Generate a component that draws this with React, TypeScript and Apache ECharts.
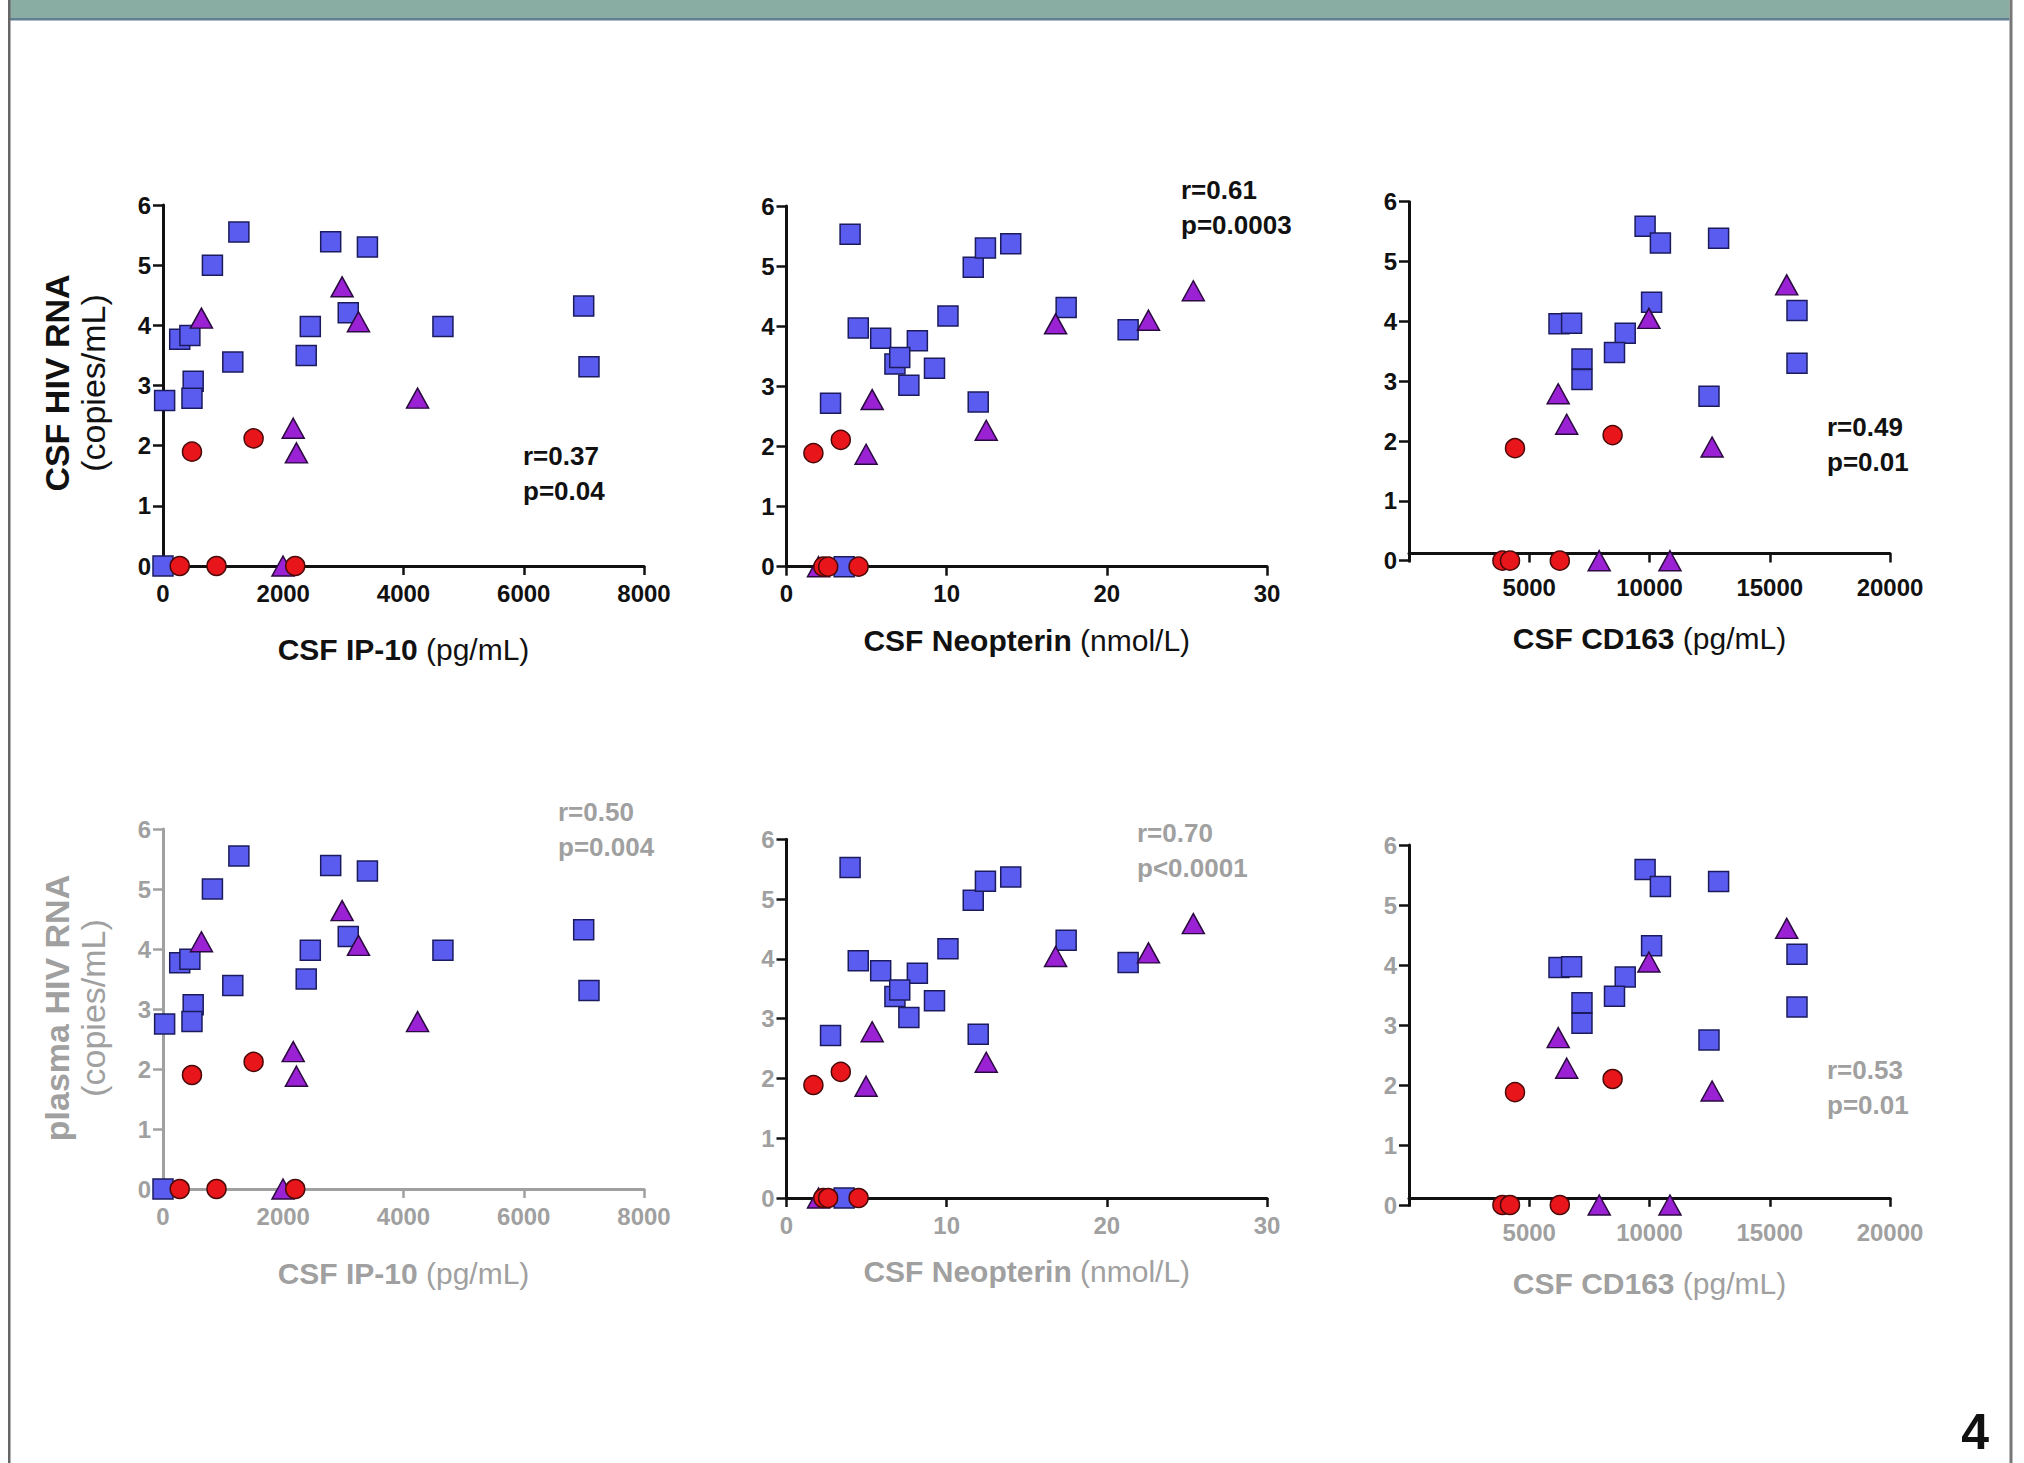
import React, { useEffect, useRef } from 'react';
import * as echarts from 'echarts';

// ---------------- DATA ----------------
// CSF IP-10 (pg/mL) vs HIV RNA (log copies/mL)
const ip10Squares: [number, number][] = [
  [1262, 5.55], [2789, 5.39], [3400, 5.30], [822, 5.0], [6997, 4.32], [3081, 4.21],
  [2450, 3.98], [4656, 3.98], [278, 3.77], [447, 3.83], [1161, 3.39], [2382, 3.5],
  [7085, 3.31], [502, 3.07], [482, 2.79], [27, 2.75], [0, 0],
];
const ip10Triangles: [number, number][] = [
  [2979, 4.64], [639, 4.12], [3251, 4.06], [4234, 2.79], [2166, 2.29], [2219, 1.88], [1996, 0],
];
const ip10Circles: [number, number][] = [
  [1507, 2.12], [482, 1.9], [278, 0], [890, 0], [2199, 0],
];

// CSF Neopterin (nmol/L)
const neoSquares: [number, number][] = [
  [3.97, 5.53], [11.66, 4.98], [12.42, 5.3], [14.0, 5.37], [17.46, 4.31], [10.08, 4.17],
  [4.48, 3.97], [21.33, 3.94], [5.88, 3.8], [8.17, 3.76], [6.77, 3.37], [7.07, 3.48],
  [7.64, 3.02], [9.24, 3.3], [2.75, 2.72], [11.97, 2.74], [3.6, 0],
];
const neoTriangles: [number, number][] = [
  [25.4, 4.59], [22.6, 4.1], [16.8, 4.04], [5.35, 2.78], [12.47, 2.27], [4.97, 1.87], [2.0, 0],
];
const neoCircles: [number, number][] = [
  [3.39, 2.11], [1.68, 1.89], [2.3, 0], [2.6, 0], [4.5, 0],
];

// CSF CD163 (pg/mL)
const cdSquares: [number, number][] = [
  [9817, 5.59], [10453, 5.31], [12873, 5.39], [10087, 4.32], [16133, 4.18], [6237, 3.96],
  [6761, 3.97], [8990, 3.8], [8545, 3.48], [7193, 3.37], [7193, 3.03], [16133, 3.3], [12474, 2.75],
];
const cdTriangles: [number, number][] = [
  [15705, 4.61], [9975, 4.05], [6204, 2.79], [6557, 2.28], [12603, 1.9], [7909, 0], [10852, 0],
];
const cdCircles: [number, number][] = [
  [8466, 2.1], [4407, 1.88], [3884, 0], [4200, 0], [6270, 0],
];

const markerSets = [
  [ip10Squares, ip10Triangles, ip10Circles],
  [neoSquares, neoTriangles, neoCircles],
  [cdSquares, cdTriangles, cdCircles],
];

const xMaxes = [8000, 30, 20000];
const xIntervals = [2000, 10, 5000];
const yMin = 0;
const yMax = 6;
const yInterval = 1;

const xTitles = [
  ['CSF IP-10', '(pg/mL)'],
  ['CSF Neopterin', '(nmol/L)'],
  ['CSF CD163', '(pg/mL)'],
];
const yTitles = [
  ['CSF HIV RNA', '(copies/mL)'],
  ['plasma HIV RNA', '(copies/mL)'],
];
const statsText = [
  ['r=0.37', 'p=0.04'],
  ['r=0.61', 'p=0.0003'],
  ['r=0.49', 'p=0.01'],
  ['r=0.50', 'p=0.004'],
  ['r=0.70', 'p<0.0001'],
  ['r=0.53', 'p=0.01'],
];
const pageNumber = '4';

// ---------------- STYLE / LAYOUT ----------------
const FONT = '"Liberation Sans", Arial, Helvetica, sans-serif';
const BLACK = '#111111';
const GRAY = '#a0a0a0';

const grids = [
  { left: 163, top: 205, width: 481, height: 361 },
  { left: 786.5, top: 206, width: 480.5, height: 360.7 },
  { left: 1409, top: 201.7, width: 481, height: 359 },
  { left: 163, top: 829, width: 481, height: 360 },
  { left: 786.5, top: 839.3, width: 480.5, height: 358.7 },
  { left: 1409, top: 845, width: 481, height: 360 },
];
const nameGaps = [68, 59, 63, 69, 58, 63];
const labelColors = [BLACK, BLACK, BLACK, GRAY, GRAY, GRAY];
const lineColors = [BLACK, BLACK, BLACK, GRAY, BLACK, BLACK];
const statsPos = [
  [523, 456, 491],
  [1181, 190, 225],
  [1827, 427, 462],
  [558, 812, 847],
  [1137, 833, 868],
  [1827, 1070, 1105],
];
const axisLift = 0.12; // CD163 panels: x axis drawn slightly above y = 0

const markerStyles = [
  { symbol: 'rect', size: [20, 20], color: '#5a5cf0', border: '#1b1b5e' },
  { symbol: 'triangle', size: [22, 20], color: '#9b22d4', border: '#2a0a40' },
  { symbol: 'circle', size: [19, 19], color: '#e8161a', border: '#4a0808' },
];

function buildOption() {
  const xAxis: any[] = [];
  const yAxis: any[] = [];
  const series: any[] = [];
  const hiddenIdx: Record<number, number> = {};
  let nextHidden = 6;

  for (let p = 0; p < 6; p++) {
    const col = p % 3;
    const lift = col === 2;
    if (lift) hiddenIdx[p] = nextHidden++;
    const lc = labelColors[p];
    const ac = lineColors[p];
    xAxis.push({
      type: 'value',
      gridIndex: p,
      min: 0,
      max: xMaxes[col],
      interval: xIntervals[col],
      splitLine: { show: false },
      axisLine: {
        show: true,
        onZero: true,
        ...(lift ? { onZeroAxisIndex: hiddenIdx[p] } : {}),
        lineStyle: { color: ac, width: 3 },
      },
      axisTick: { show: true, length: 9, lineStyle: { color: ac, width: 2.5 } },
      axisLabel: {
        color: lc,
        fontSize: 24,
        fontWeight: 'bold',
        fontFamily: FONT,
        margin: 15,
        formatter: (v: number) => (lift && v === 0 ? '' : String(v)),
      },
      name: `{b|${xTitles[col][0]}} {r|${xTitles[col][1]}}`,
      nameLocation: 'middle',
      nameGap: nameGaps[p],
      nameTextStyle: {
        color: lc,
        fontSize: 30,
        fontFamily: FONT,
        rich: {
          b: { fontWeight: 'bold', fontSize: 30, color: lc, fontFamily: FONT },
          r: { fontWeight: 'normal', fontSize: 30, color: lc, fontFamily: FONT },
        },
      },
    });
    yAxis.push({
      type: 'value',
      gridIndex: p,
      min: yMin,
      max: yMax,
      interval: yInterval,
      splitLine: { show: false },
      axisLine: { show: true, onZero: true, lineStyle: { color: ac, width: 3 } },
      axisTick: { show: true, length: 10, lineStyle: { color: ac, width: 2.5 } },
      axisLabel: { color: lc, fontSize: 24, fontWeight: 'bold', fontFamily: FONT, margin: 12 },
    });
  }
  // hidden helper y axes that place the CD163 x axis slightly above zero
  for (const p of [2, 5]) {
    yAxis.push({
      type: 'value',
      gridIndex: p,
      show: false,
      min: yMin - axisLift,
      max: yMax - axisLift,
      splitLine: { show: false },
    });
  }

  for (let p = 0; p < 6; p++) {
    const col = p % 3;
    markerSets[col].forEach((data, k) => {
      const ms = markerStyles[k];
      series.push({
        type: 'scatter',
        xAxisIndex: p,
        yAxisIndex: p,
        data,
        symbol: ms.symbol,
        symbolSize: ms.size,
        clip: false,
        silent: true,
        z: 3 + k,
        itemStyle: { color: ms.color, borderColor: ms.border, borderWidth: 1.5, opacity: 1 },
      });
    });
  }

  const graphic: any[] = [
    { type: 'rect', shape: { x: 10, y: 0, width: 1999.5, height: 18.5 }, style: { fill: '#8aada3' } },
    { type: 'rect', shape: { x: 10, y: 18, width: 1999.5, height: 2.5 }, style: { fill: '#607e94' } },
    { type: 'rect', shape: { x: 8, y: 0, width: 2.5, height: 1463 }, style: { fill: '#666666' } },
    { type: 'rect', shape: { x: 2009.5, y: 0, width: 3, height: 1463 }, style: { fill: '#777777' } },
  ];
  const txt = (text: string, x: number, y: number, font: string, fill: string, align: string, rotation = 0) => ({
    type: 'text',
    x,
    y,
    rotation,
    silent: true,
    style: {
      text,
      font,
      fill,
      textAlign: align,
      textVerticalAlign: 'middle',
      align,
      verticalAlign: 'middle',
    },
  });
  const yTitleCenters = [383, 1008];
  yTitles.forEach((t, r) => {
    const c = r === 0 ? BLACK : GRAY;
    graphic.push(txt(t[0], 57, yTitleCenters[r], `bold 34px ${FONT}`, c, 'center', Math.PI / 2));
    graphic.push(txt(t[1], 93, yTitleCenters[r], `normal 34px ${FONT}`, c, 'center', Math.PI / 2));
  });
  statsText.forEach((s, p) => {
    const c = p < 3 ? BLACK : GRAY;
    const [x, y1, y2] = statsPos[p];
    graphic.push(txt(s[0], x, y1, `bold 26px ${FONT}`, c, 'left'));
    graphic.push(txt(s[1], x, y2, `bold 26px ${FONT}`, c, 'left'));
  });
  graphic.push(txt(pageNumber, 1989, 1432, `bold 50px ${FONT}`, BLACK, 'right'));

  return {
    animation: false,
    backgroundColor: '#ffffff',
    grid: grids.map((g) => ({ ...g, containLabel: false })),
    xAxis,
    yAxis,
    series,
    graphic,
  };
}

export default function App() {
  const ref = useRef<HTMLDivElement | null>(null);
  useEffect(() => {
    if (!ref.current) return;
    const chart = echarts.init(ref.current, undefined, { renderer: 'svg' });
    chart.setOption(buildOption());
    return () => chart.dispose();
  }, []);
  return (
    <div
      ref={ref}
      style={{ position: 'absolute', left: 0, top: 0, width: 2024, height: 1463, background: '#fff' }}
    />
  );
}
